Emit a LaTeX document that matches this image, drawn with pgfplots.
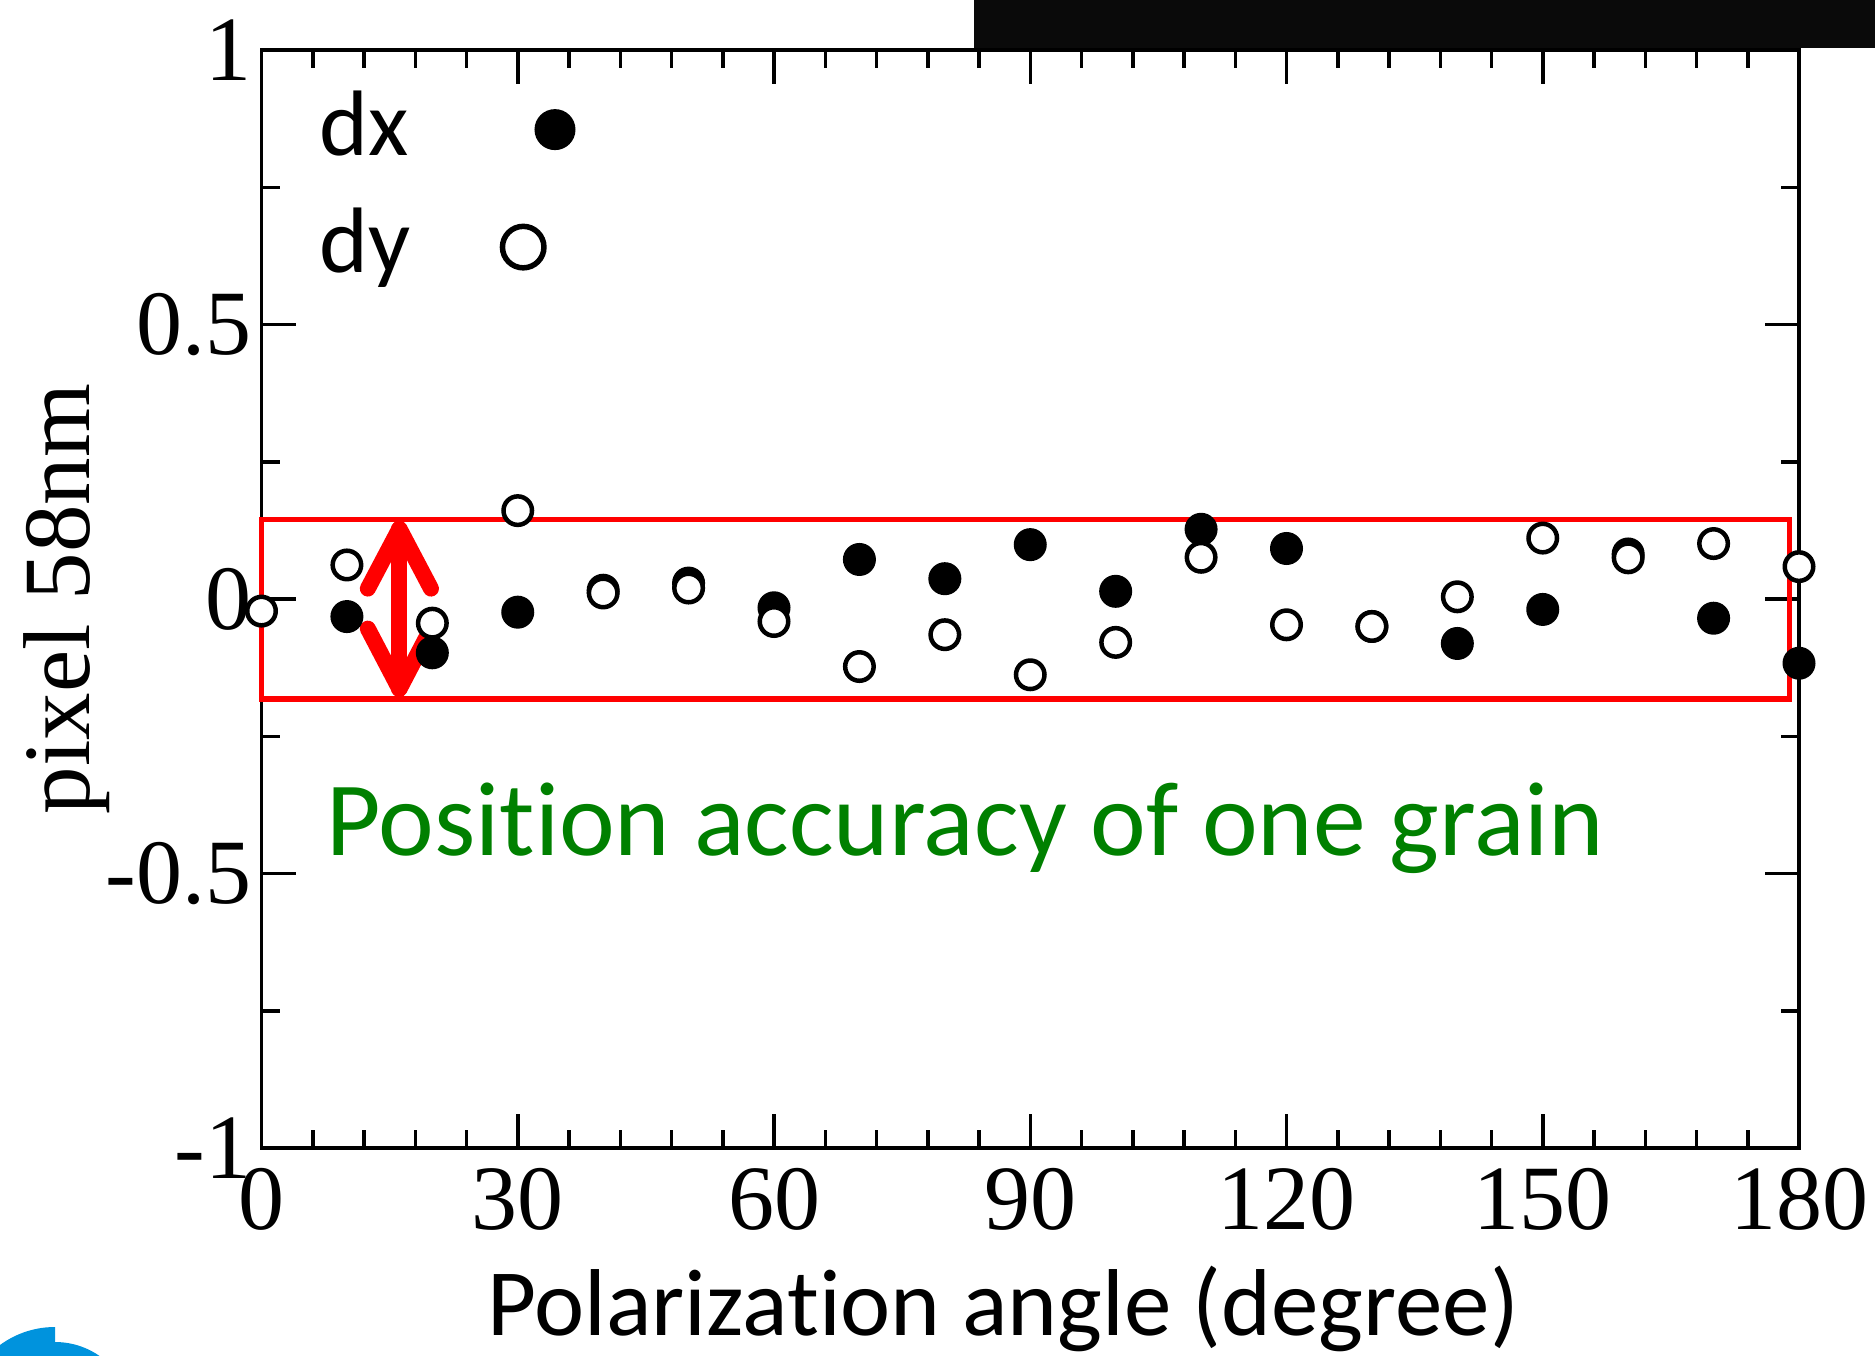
\documentclass[border=0pt]{standalone}
\usepackage{pgfplots}
\pgfplotsset{compat=1.18}
\usepackage{fontspec}
\setmainfont{Liberation Serif}
\newfontfamily\calibri[Ligatures=NoCommon]{Carlito}
\definecolor{logoblue}{RGB}{0,147,221}
\definecolor{accgreen}{RGB}{0,128,0}
\begin{document}
\begin{tikzpicture}[x=1pt,y=1pt]
\useasboundingbox (0,0) rectangle (375,271);
\fill[black!96] (194.7,261.46) rectangle (375,271);
\fill[logoblue] (11,-13) -- (11,5.6) arc[start angle=90,end angle=180,radius=18.6] -- cycle;
\fill[logoblue] (11,-13) -- (26.6,-13) arc[start angle=0,end angle=90,radius=15.6] -- cycle;
\begin{axis}[
  at={(52.3pt,41.4pt)}, anchor=south west,
  scale only axis, width=307.5pt, height=219.6pt,
  xmin=0, xmax=180, ymin=-1, ymax=1,
  xtick={0,30,60,90,120,150,180},
  xticklabels={0,30,60,90,120,150,180},
  minor x tick num=4,
  ytick={-1,-0.5,0,0.5,1},
  yticklabels={-1,-0.5,0,0.5,1},
  minor y tick num=1,
  tick align=inside,
  major tick length=6.8pt, minor tick length=3.6pt,
  every tick/.style={black, line width=0.7pt},
  axis line style={line width=0.75pt},
  tick label style={font=\fontsize{18.4}{20}\selectfont},
  xticklabel style={yshift=-0.6pt},
  yticklabel style={xshift=1.5pt},
  clip=false,
  xlabel={Polarization angle (degree)},
  ylabel={pixel 58nm},
  every axis x label/.style={at={([yshift=-37.4pt]axis description cs:0.4823,0)}, anchor=base, font=\calibri\fontsize{19}{22}\selectfont},
  every axis y label/.style={at={([xshift=-38.9pt]axis description cs:0,0.5)}, rotate=90, anchor=center, font=\fontsize{19}{22}\selectfont},
]
% dx (filled)
\addplot[only marks, mark=*, mark size=3pt, mark options={fill=black, draw=black, line width=0.6pt}] table {
x y
10 -0.032
20 -0.098
30 -0.024
40 0.016
50 0.029
60 -0.016
70 0.072
80 0.037
90 0.099
100 0.014
110 0.127
120 0.092
130 -0.050
140 -0.081
150 -0.019
160 0.082
170 -0.035
180 -0.117
};
% dy (open)
\addplot[only marks, mark=*, mark size=2.85pt, mark options={fill=white, draw=black, line width=0.9pt}] table {
x y
0 -0.022
10 0.062
20 -0.044
30 0.161
40 0.011
50 0.020
60 -0.041
70 -0.123
80 -0.065
90 -0.138
100 -0.079
110 0.076
120 -0.047
130 -0.050
140 0.004
150 0.111
160 0.075
170 0.101
180 0.059
};
% key markers
\addplot[only marks, mark=*, mark size=3.8pt, mark options={fill=black, draw=black, line width=0.6pt}] coordinates {(34.36,0.855)};
\addplot[only marks, mark=*, mark size=4.15pt, mark options={fill=white, draw=black, line width=1.1pt}] coordinates {(30.64,0.641)};
\node[anchor=base west, inner sep=0, font=\calibri\fontsize{18.6}{20}\selectfont] at (axis cs:6.73,0.8075) {dx};
\node[anchor=base west, inner sep=0, font=\calibri\fontsize{18.6}{20}\selectfont] at (axis cs:6.73,0.594) {dy};
% annotations
\draw[red, line width=1.05pt] (axis cs:0,0.145) rectangle (axis cs:178.9,-0.182);
\draw[red, line width=3.2pt, line cap=round, line join=round] (axis cs:16.15,0.128) -- (axis cs:16.15,-0.164);
\draw[red, line width=3.2pt, line cap=round, line join=round] (axis cs:12.45,0.019) -- (axis cs:16.15,0.128) -- (axis cs:19.84,0.019);
\draw[red, line width=3.2pt, line cap=round, line join=round] (axis cs:12.45,-0.054) -- (axis cs:16.15,-0.164) -- (axis cs:19.84,-0.054);
\node[anchor=base west, inner sep=0, text=accgreen, font=\calibri\fontsize{21.1}{24}\selectfont] at (axis cs:7.47,-0.468) {Position accuracy of one grain};
\end{axis}
\end{tikzpicture}
\end{document}
